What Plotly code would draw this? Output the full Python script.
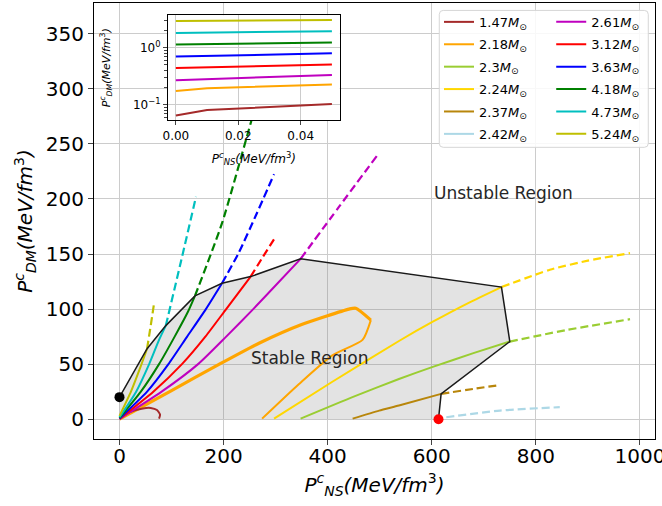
import plotly.graph_objects as go

FONT = "DejaVu Sans"

# ---------------- data ----------------
masses = ["1.47", "2.18", "2.3", "2.24", "2.37", "2.42",
          "2.61", "3.12", "3.63", "4.18", "4.73", "5.24"]
colors = ["#a52a2a", "#ffa500", "#9acd32", "#ffd700", "#b8860b", "#add8e6",
          "#bf00bf", "#ff0000", "#0000ff", "#008000", "#00bfbf", "#bfbf00"]

# stable (solid) branches: P_NS, P_DM  (MeV/fm^3)
m147_x = [0, 20, 45, 60, 72, 78, 76]
m147_y = [0.06, 6.5, 9.8, 10.2, 8.3, 4, 0.5]

m218_up_x = [0, 100, 192, 268, 350, 441, 454, 483]
m218_up_y = [0.17, 26, 50, 69, 86, 100, 100.8, 90]
m218_lo_x = [483, 467, 409, 345, 274]
m218_lo_y = [90, 72, 58, 32, 0.5]

m23_x = [348, 450, 537, 602, 680, 750]
m23_y = [0.5, 20.5, 36.5, 47.5, 60, 70.5]
m23_dx = [750, 859, 981]
m23_dy = [70.5, 81, 90.8]

m224_x = [297, 409, 537, 602, 670, 734]
m224_y = [0.5, 34, 71, 88.5, 105.5, 120]
m224_dx = [734, 827, 900, 981]
m224_dy = [120, 135.7, 144, 150.8]

m237_x = [448, 499, 537, 618]
m237_y = [0.5, 7.8, 12.4, 23]
m237_dx = [618, 680, 731]
m237_dy = [23, 27.5, 31]

m242_dx = [605, 731, 846]
m242_dy = [0.3, 7.8, 10.9]

m261_x = [0, 81, 151, 205, 257, 303, 348]
m261_y = [0.27, 25, 50, 75, 100, 123, 145.6]
m261_dx = [348, 422, 496]
m261_dy = [145.6, 193, 240]

m312_x = [0, 65, 120, 165, 205, 252]
m312_y = [0.44, 25, 50, 75, 100, 129.5]
m312_dx = [252, 275, 297]
m312_dy = [129.5, 147, 163.5]

m363_x = [0, 53, 94, 130, 166, 197]
m363_y = [0.7, 25, 50, 75, 100, 123.5]
m363_dx = [197, 229, 262, 297]
m363_dy = [123.5, 151, 185, 222.5]

m418_x = [0, 41, 76, 106, 132, 145]
m418_y = [1.1, 25, 50, 75, 98, 112]
m418_dx = [145, 197, 248, 300]
m418_dy = [112, 178, 262, 350]

m473_x = [0, 32, 57, 76, 89]
m473_y = [1.8, 25, 50, 72, 85]
m473_dx = [89, 118, 147]
m473_dy = [85, 143, 202]

m524_x = [0, 22, 40, 53]
m524_y = [3, 25, 47, 64]
m524_dx = [53, 60, 67]
m524_dy = [64, 85, 107]

# stability boundary
bound_x = [0, 53, 89, 145, 197, 252, 348, 734, 750, 618, 613]
bound_y = [20, 64, 85, 112, 123.5, 129.5, 145.6, 120, 70.5, 23, 0]

# inset (low central pressure, log scale)
inset_x = [0, 0.01, 0.05]
inset_y = {
    "1.47": [0.065, 0.081, 0.104],
    "2.18": [0.175, 0.195, 0.228],
    "2.61": [0.271, 0.283, 0.335],
    "3.12": [0.44, 0.452, 0.51],
    "3.63": [0.70, 0.715, 0.80],
    "4.18": [1.14, 1.16, 1.24],
    "4.73": [1.82, 1.84, 1.94],
    "5.24": [2.94, 2.96, 3.06],
}

x_ticks = [0, 200, 400, 600, 800, 1000]
y_ticks = [0, 50, 100, 150, 200, 250, 300, 350]

# ---------------- figure ----------------
cmap = dict(zip(masses, colors))
col1 = masses[:6]

fig = go.Figure()

# stable region fill
fig.add_trace(go.Scatter(
    x=[0] + bound_x + [0], y=[0] + bound_y + [0], mode="lines",
    fill="toself", fillcolor="rgba(128,128,128,0.22)",
    line=dict(width=0), showlegend=False, hoverinfo="skip"))

solid = {
    "1.47": (m147_x, m147_y),
    "2.18": (m218_lo_x, m218_lo_y),
    "2.3": (m23_x, m23_y),
    "2.24": (m224_x, m224_y),
    "2.37": (m237_x, m237_y),
    "2.42": None,
    "2.61": (m261_x, m261_y),
    "3.12": (m312_x, m312_y),
    "3.63": (m363_x, m363_y),
    "4.18": (m418_x, m418_y),
    "4.73": (m473_x, m473_y),
    "5.24": (m524_x, m524_y),
}
dashed = {
    "2.3": (m23_dx, m23_dy),
    "2.24": (m224_dx, m224_dy),
    "2.37": (m237_dx, m237_dy),
    "2.42": (m242_dx, m242_dy),
    "2.61": (m261_dx, m261_dy),
    "3.12": (m312_dx, m312_dy),
    "3.63": (m363_dx, m363_dy),
    "4.18": (m418_dx, m418_dy),
    "4.73": (m473_dx, m473_dy),
    "5.24": (m524_dx, m524_dy),
}

# thick upper branch of the 2.18 curve
fig.add_trace(go.Scatter(x=m218_up_x, y=m218_up_y, mode="lines",
                         line=dict(color=cmap["2.18"], width=3.2, shape="spline", smoothing=0.6),
                         showlegend=False, legendgroup="2.18", hoverinfo="skip"))

for m in masses:
    c = cmap[m]
    leg = "legend" if m in col1 else "legend2"
    name = f"{m}<i>M</i><sub>⊙</sub>"
    if m in dashed:
        dx, dy = dashed[m]
        fig.add_trace(go.Scatter(x=dx, y=dy, mode="lines",
                                 line=dict(color=c, width=2.2, dash="8px,4px", shape="spline", smoothing=0.6),
                                 showlegend=False, legendgroup=m, hoverinfo="skip"))
    if solid[m] is not None:
        sx, sy = solid[m]
        fig.add_trace(go.Scatter(x=sx, y=sy, mode="lines", name=name,
                                 line=dict(color=c, width=2, shape="spline", smoothing=0.6),
                                 legend=leg, legendgroup=m))
    else:
        fig.add_trace(go.Scatter(x=[None], y=[None], mode="lines", name=name,
                                 line=dict(color=c, width=2), legend=leg, legendgroup=m))

# boundary line
fig.add_trace(go.Scatter(x=bound_x, y=bound_y, mode="lines",
                         line=dict(color="#1a1a1a", width=1.5),
                         showlegend=False, hoverinfo="skip"))
# end points
fig.add_trace(go.Scatter(x=[bound_x[0]], y=[bound_y[0]], mode="markers",
                         marker=dict(color="black", size=10), showlegend=False))
fig.add_trace(go.Scatter(x=[bound_x[-1]], y=[bound_y[-1]], mode="markers",
                         marker=dict(color="red", size=10), showlegend=False))

# inset
for m, ys in inset_y.items():
    fig.add_trace(go.Scatter(x=inset_x, y=ys, mode="lines", xaxis="x2", yaxis="y2",
                             line=dict(color=cmap[m], width=2), showlegend=False,
                             hoverinfo="skip"))

grid = "#cccccc"
title_x = "<i>P</i><sup><i>c</i></sup><sub><i>NS</i></sub><i>(MeV/fm</i><sup>3</sup><i>)</i>"
title_y = "<i>P</i><sup><i>c</i></sup><sub><i>DM</i></sub><i>(MeV/fm</i><sup>3</sup><i>)</i>"

# legend frame (rounded)
x0, x1, y0, y1 = 0.6155, 0.988, 0.669, 0.983
rx, ry = 0.007, 0.009
frame = (f"M {x0+rx},{y0} L {x1-rx},{y0} Q {x1},{y0} {x1},{y0+ry} L {x1},{y1-ry} "
         f"Q {x1},{y1} {x1-rx},{y1} L {x0+rx},{y1} Q {x0},{y1} {x0},{y1-ry} "
         f"L {x0},{y0+ry} Q {x0},{y0} {x0+rx},{y0} Z")

fig.update_layout(
    width=662, height=506,
    margin=dict(l=94, r=7, t=3, b=67),
    paper_bgcolor="white", plot_bgcolor="white",
    font=dict(family=FONT, color="black"),
    showlegend=True,
    xaxis=dict(range=[-49, 1029], tickvals=x_ticks, ticks="outside", ticklen=5,
               tickfont=dict(size=20), showgrid=True, gridcolor=grid, gridwidth=1.2,
               zeroline=False, showline=True, linecolor="black", linewidth=1.2, mirror=True,
               ticklabeloverflow="allow", ticklabelstandoff=-6,
               title=dict(text=title_x, font=dict(size=20), standoff=10), automargin=False),
    yaxis=dict(range=[-18, 378], tickvals=y_ticks, ticks="outside", ticklen=5,
               tickfont=dict(size=20), showgrid=True, gridcolor=grid, gridwidth=1.2,
               zeroline=False, showline=True, linecolor="black", linewidth=1.2, mirror=True,
               title=dict(text=title_y, font=dict(size=20), standoff=7), automargin=False),
    xaxis2=dict(domain=[0.132, 0.438], anchor="y2", range=[-0.0025, 0.0525],
                tickvals=[0, 0.02, 0.04], ticktext=["0.00", "0.02", "0.04"],
                ticks="outside", ticklen=4, tickfont=dict(size=12),
                showgrid=True, gridcolor=grid, zeroline=False,
                showline=True, linecolor="black", linewidth=1.2, mirror=True,
                title=dict(text=title_x, font=dict(size=12), standoff=12), automargin=False),
    yaxis2=dict(domain=[0.731, 0.972], anchor="x2", type="log", range=[-1.27, 0.57],
                tickvals=[0.1, 1], ticktext=["10<sup>−1</sup>", "10<sup>0</sup>"],
                ticks="outside", ticklen=4, tickfont=dict(size=12),
                minor=dict(tickvals=[0.06, 0.07, 0.08, 0.09, 0.2, 0.3, 0.4, 0.5, 0.6, 0.7, 0.8, 0.9, 2, 3],
                           ticks="outside", ticklen=2.5, showgrid=False),
                showgrid=True, gridcolor=grid, zeroline=False,
                showline=True, linecolor="black", linewidth=1.2, mirror=True,
                title=dict(text=title_y, font=dict(size=11), standoff=20), automargin=False),
    legend=dict(x=0.615, y=0.991, xanchor="left", yanchor="top",
                bgcolor="rgba(0,0,0,0)", borderwidth=0, font=dict(size=13),
                traceorder="grouped", tracegroupgap=2.5),
    legend2=dict(x=0.815, y=0.991, xanchor="left", yanchor="top",
                 bgcolor="rgba(0,0,0,0)", borderwidth=0, font=dict(size=13),
                 traceorder="grouped", tracegroupgap=2.5),
    shapes=[dict(type="path", xref="paper", yref="paper", path=frame,
                 fillcolor="rgba(255,255,255,0.85)", line=dict(color="#d6d6d6", width=1),
                 layer="above")],
    annotations=[
        dict(x=600, y=205.5, xref="x", yref="y", text="Unstable Region", showarrow=False,
             xanchor="left", yanchor="middle", font=dict(size=17, color="#262626")),
        dict(x=248, y=56, xref="x", yref="y", text="Stable Region", showarrow=False,
             xanchor="left", yanchor="middle", font=dict(size=17, color="#262626")),
    ],
)

fig.write_html("out.html", config={"displayModeBar": False},
               post_script="document.body.style.margin='0';")
